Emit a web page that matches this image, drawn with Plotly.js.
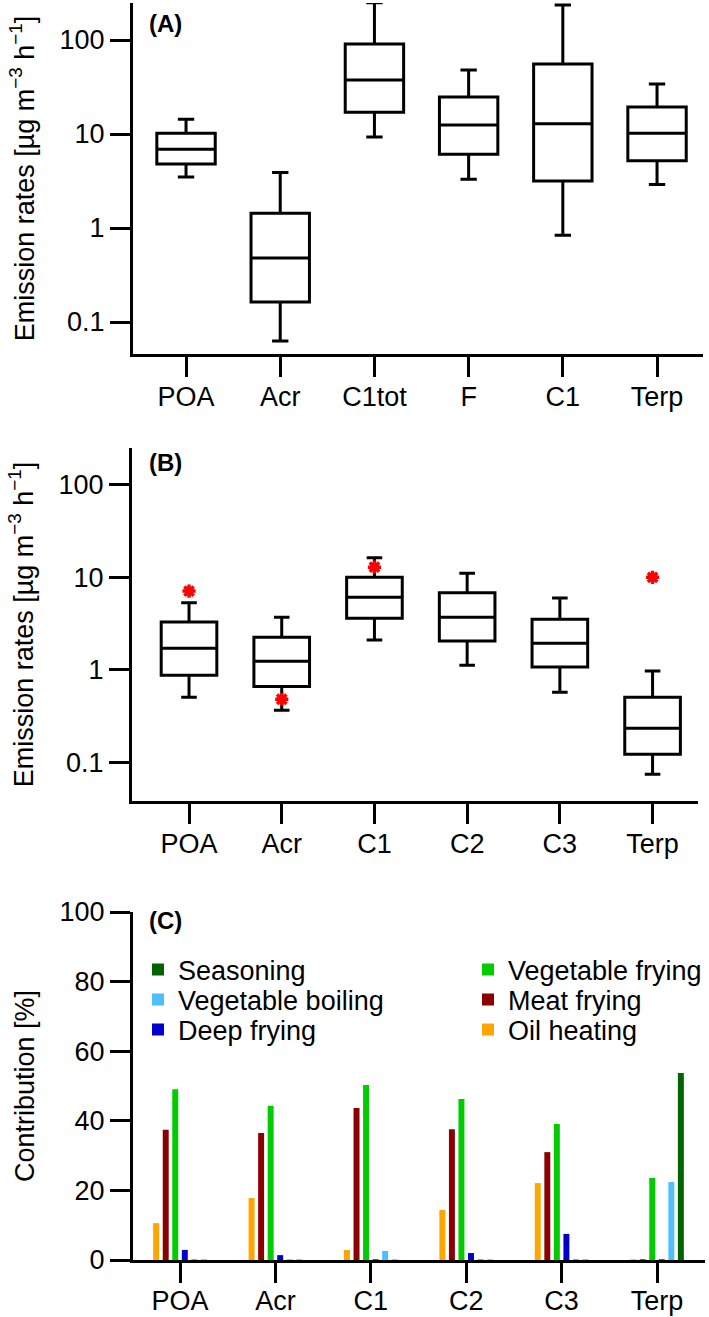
<!DOCTYPE html>
<html>
<head>
<meta charset="utf-8">
<script src="https://cdn.plot.ly/plotly-3.0.1.min.js"></script>
<style>
  html, body { margin: 0; padding: 0; background: #fff; }
  #chart { width: 709px; height: 1317px; }
</style>
</head>
<body>
<div id="chart"></div>
<script>
// panel A: emission rates, box stats
const catsA = ['POA', 'Acr', 'C1tot', 'F', 'C1', 'Terp']
const lowA = [3.5, 0.063, 9.3, 3.3, 0.84, 2.9]
const q1A = [4.8, 0.163, 17.1, 6.1, 3.16, 5.2]
const medA = [6.9, 0.48, 37.5, 12.5, 12.9, 10.2]
const q3A = [10.2, 1.44, 90.6, 24.8, 55.6, 19.4]
const highA = [14.4, 3.9, 250, 47.9, 236, 34]

// panel B
const catsB = ['POA', 'Acr', 'C1', 'C2', 'C3', 'Terp']
const lowB = [0.505, 0.365, 2.1, 1.12, 0.57, 0.074]
const q1B = [0.87, 0.66, 3.6, 2.05, 1.07, 0.122]
const medB = [1.71, 1.24, 6.1, 3.7, 1.94, 0.233]
const q3B = [3.28, 2.25, 10, 6.8, 3.53, 0.505]
const highB = [5.3, 3.7, 16.3, 11.1, 5.97, 0.97]
const outlierCats = ['POA', 'Acr', 'C1', 'Terp']
const outlierVals = [7.1, 0.48, 12.9, 10]

// panel C: contribution [%]
const catsC = ['POA', 'Acr', 'C1', 'C2', 'C3', 'Terp']
const oilHeating = [10.6, 17.8, 2.9, 14.4, 22.1, 0.2]
const meatFrying = [37.4, 36.5, 43.7, 37.6, 31.0, 0.2]
const vegFrying = [49.1, 44.3, 50.3, 46.3, 39.1, 23.6]
const deepFrying = [2.9, 1.4, 0.2, 2.0, 7.5, 0.2]
const vegBoiling = [0.3, 0.2, 2.6, 0.3, 0.3, 22.4]
const seasoning = [0.1, 0.1, 0.1, 0.1, 0.1, 53.7]

const logTicks = [0.1, 1, 10, 100]
const logText = ['0.1', '1', '10', '100']

const W = 709
const H = 1317
const px = (x) => x / W
const py = (y) => 1 - y / H

const font = {family: 'Liberation Sans, Arial, sans-serif', size: 27, color: '#000'}
const boxLine = {color: '#000', width: 3}

function boxTrace (cats, low, q1, med, q3, high, width, xa, ya) {
  return {
    type: 'box',
    x: cats,
    lowerfence: low,
    q1,
    median: med,
    q3,
    upperfence: high,
    width,
    whiskerwidth: 0.28,
    boxpoints: false,
    fillcolor: '#fff',
    line: boxLine,
    xaxis: xa,
    yaxis: ya,
    showlegend: false,
    hoverinfo: 'skip'
  }
}

function barTrace (name, y, color, legend) {
  return {
    type: 'bar',
    name,
    x: catsC,
    y,
    marker: {color, line: {width: 0}},
    xaxis: 'x3',
    yaxis: 'y3',
    legend
  }
}

const traces = [
  boxTrace(catsA, lowA, q1A, medA, q3A, highA, 0.62, 'x', 'y'),
  boxTrace(catsB, lowB, q1B, medB, q3B, highB, 0.6, 'x2', 'y2'),
  {
    type: 'scatter',
    mode: 'markers',
    x: outlierCats,
    y: outlierVals,
    marker: {symbol: 'asterisk-open', size: 11, color: '#ff0000', line: {color: '#ff0000', width: 3.5}},
    xaxis: 'x2',
    yaxis: 'y2',
    showlegend: false
  },
  // bar order inside each group as in the figure, one legend box per entry
  barTrace('Oil heating', oilHeating, '#ffa500', 'legend6'),
  barTrace('Meat frying', meatFrying, '#8b0000', 'legend4'),
  barTrace('Vegetable frying', vegFrying, '#00cc00', 'legend2'),
  barTrace('Deep frying', deepFrying, '#0000cc', 'legend5'),
  barTrace('Vegetable boiling', vegBoiling, '#4dbfff', 'legend3'),
  barTrace('Seasoning', seasoning, '#006400', 'legend')
]

const axisCommon = {
  showline: true,
  linecolor: '#000',
  linewidth: 3,
  ticks: 'outside',
  ticklen: 20,
  tickwidth: 3,
  tickcolor: '#000',
  showgrid: false,
  zeroline: false,
  tickfont: font,
  fixedrange: true
}

const yTitle = 'Emission rates [µg m<sup>−3</sup> h<sup>−1</sup>]'

const layout = {
  width: W,
  height: H,
  margin: {l: 0, r: 0, t: 0, b: 0},
  paper_bgcolor: '#fff',
  plot_bgcolor: 'rgba(0,0,0,0)',
  font,
  barmode: 'group',
  bargap: 0.4,
  bargroupgap: 0.375,
  xaxis: {...axisCommon, type: 'category', domain: [px(133), px(703)], range: [-0.563, 5.488], anchor: 'y', ticklabelstandoff: -3},
  yaxis: {
    ...axisCommon, type: 'log', domain: [py(354), py(3)], range: [-1.34, 2.394], anchor: 'x',
    tickvals: logTicks, ticktext: logText,
    title: {text: yTitle, font, standoff: 18}
  },
  xaxis2: {...axisCommon, type: 'category', domain: [px(132), px(698)], range: [-0.615, 5.49], anchor: 'y2', ticklabelstandoff: -3},
  yaxis2: {
    ...axisCommon, type: 'log', domain: [py(801), py(448)], range: [-1.42, 2.40], anchor: 'x2',
    tickvals: logTicks, ticktext: logText,
    title: {text: yTitle, font, standoff: 18}
  },
  xaxis3: {...axisCommon, type: 'category', domain: [px(133), px(705)], range: [-0.493, 5.503], anchor: 'y3', ticklabelstandoff: -5},
  yaxis3: {
    ...axisCommon, domain: [py(1260), py(912)], range: [0, 100], anchor: 'x3',
    tickvals: [0, 20, 40, 60, 80, 100],
    title: {text: 'Contribution [%]', font, standoff: 18}
  },
  annotations: [
    ['(A)', 24], ['(B)', 462], ['(C)', 920]
  ].map(([text, y]) => ({
    text: '<b>' + text + '</b>',
    xref: 'paper', yref: 'paper',
    x: px(147), y: py(y), xanchor: 'left', yanchor: 'middle',
    showarrow: false,
    font: {...font, size: 24}
  }))
}

// two columns of three rows, 30 px apart
const legendSpots = [[138, 970], [468, 970], [138, 1000], [468, 1000], [138, 1030], [468, 1030]]
legendSpots.forEach(([x, y], i) => {
  layout[i === 0 ? 'legend' : 'legend' + (i + 1)] = {
    x: px(x), y: py(y), xanchor: 'left', yanchor: 'middle',
    font, bgcolor: 'rgba(0,0,0,0)', borderwidth: 0, itemclick: false
  }
})

Plotly.newPlot('chart', traces, layout, {displayModeBar: false, staticPlot: true})
</script>
</body>
</html>
